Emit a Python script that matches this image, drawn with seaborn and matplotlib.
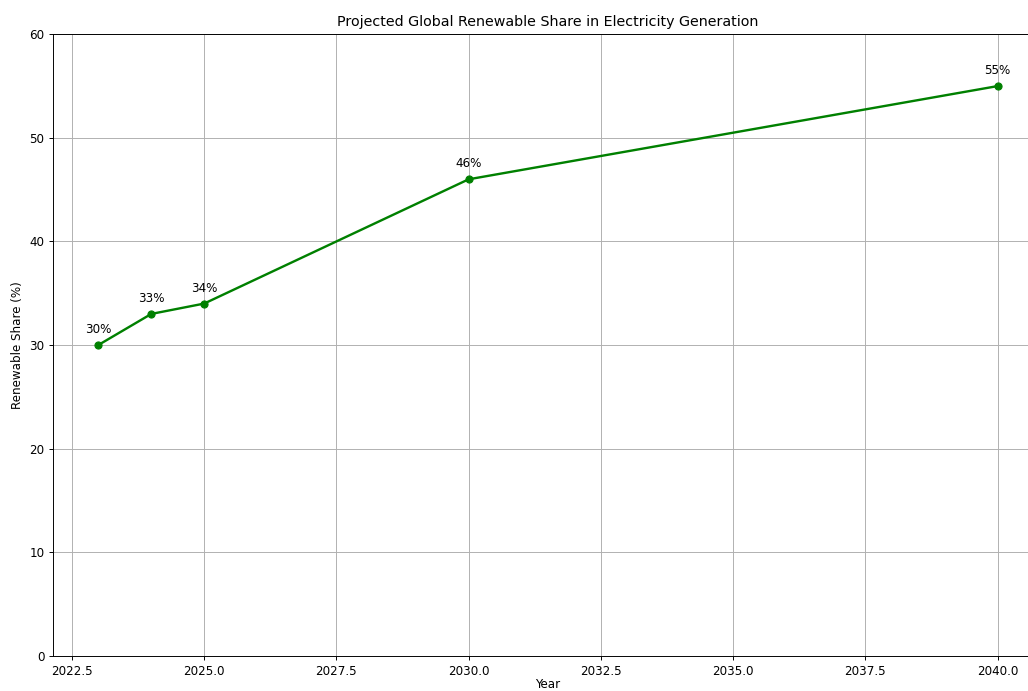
import matplotlib
matplotlib.use("Agg")
import matplotlib.pyplot as plt
import seaborn as sns
import pandas as pd

# === Datos ===
years = [2023, 2024, 2025, 2030, 2040]
share = [30, 33, 34, 46, 55]
labels = [f"{v}%" for v in share]

df = pd.DataFrame({"year": years, "share": share})

# escala ~0.857 (figura original 12x8 reducida)
s = 0.857
plt.rcParams["font.family"] = ["DejaVu Sans"]

fig = plt.figure(figsize=(10.28, 6.91), dpi=100)
W, H = 1028, 691
ax = fig.add_axes([53.4 / W, (H - 655.7) / H, (1042.6 - 53.4) / W, (655.7 - 34.3) / H])

sns.lineplot(data=df, x="year", y="share", ax=ax, color="green", marker="o",
             linewidth=2 * s, markersize=6 * s, markeredgecolor="green")

for x, y, t in zip(years, share, labels):
    ax.annotate(t, (x, y), textcoords="offset points", xytext=(0, 10 * s),
                ha="center", fontsize=10 * s)

ax.set_ylim(0, 60)
ax.set_title("Projected Global Renewable Share in Electricity Generation", fontsize=12 * s)
ax.set_xlabel("Year", fontsize=10 * s, labelpad=0)
ax.set_ylabel("Renewable Share (%)", fontsize=10 * s)
ax.tick_params(labelsize=10 * s, width=0.8 * s, length=3.5 * s)
for sp in ax.spines.values():
    sp.set_linewidth(0.8 * s)
ax.grid(True, color="#b0b0b0", linewidth=0.8 * s)

fig.savefig("out.png", dpi=100)
